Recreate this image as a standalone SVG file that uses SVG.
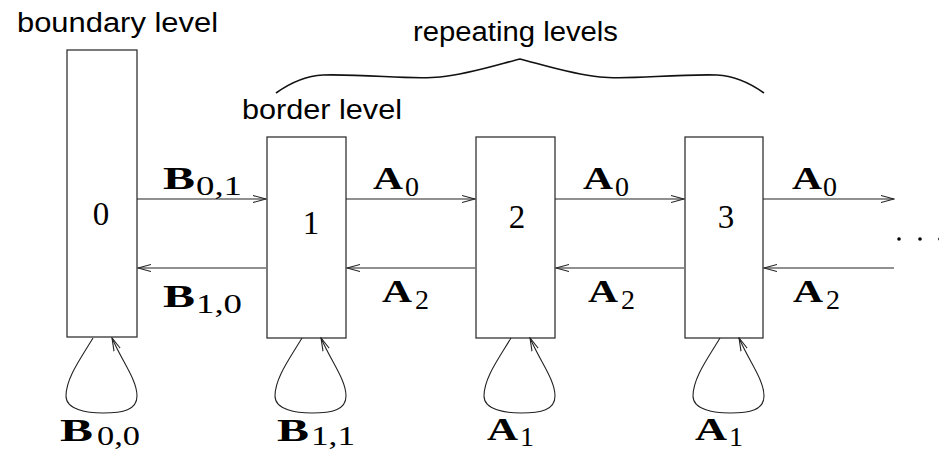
<svg xmlns="http://www.w3.org/2000/svg" width="939" height="452" viewBox="0 0 939 452">
<style>
.box{fill:#fff;stroke:#333;stroke-width:1.3}
.ln{fill:none;stroke:#222;stroke-width:1.1}
.br{fill:none;stroke:#111;stroke-width:1.6}
.lbl{font-family:"Liberation Sans",Arial,sans-serif;font-size:27px;fill:#000}
.num{font-family:"Liberation Serif","Times New Roman",serif;font-size:33px;fill:#000;text-anchor:middle}
.m{font-family:"Liberation Serif","Times New Roman",serif;font-weight:bold;font-size:32px;fill:#000}
.s{font-family:"Liberation Serif","Times New Roman",serif;font-size:28px;fill:#000}
</style>
<defs>
<marker id="ah" markerWidth="14" markerHeight="10" refX="13" refY="5" orient="auto" markerUnits="userSpaceOnUse">
<path d="M0,1.5 L13,5 L0,8.5" fill="none" stroke="#222" stroke-width="1.1"/>
</marker>
<path id="loop" d="M0,0 C-12,20 -27,40 -27,58 C-27,72 -5,75 10,75 C30,75 44,72 44,58 C44,42 30,25 19,0"/>
</defs>

<text class="lbl" x="17" y="32" textLength="201" lengthAdjust="spacingAndGlyphs">boundary level</text>
<text class="lbl" x="413" y="41" textLength="205" lengthAdjust="spacingAndGlyphs">repeating levels</text>
<text class="lbl" x="242" y="119" textLength="160" lengthAdjust="spacingAndGlyphs">border level</text>
<path class="br" d="M276,93 Q300,76 323,75 C370,74 410,80 440,77 C470,74 500,64 520,59 C540,64 570,74 600,77 C630,80 670,74 717,75 Q740,76 764,93"/>

<g id="node0">
<rect class="box" x="67" y="50" width="70" height="287"/>
<text class="num" x="101" y="225">0</text>
</g>
<g id="node1">
<rect class="box" x="267" y="137" width="79" height="201"/>
<text class="num" x="311" y="234">1</text>
</g>
<g id="node2">
<rect class="box" x="476" y="137" width="79" height="201"/>
<text class="num" x="517" y="228">2</text>
</g>
<g id="node3">
<rect class="box" x="685" y="137" width="78" height="201"/>
<text class="num" x="726" y="228">3</text>
</g>

<g id="connectors">
<line class="ln" x1="137" y1="199" x2="266" y2="199" marker-end="url(#ah)"/>
<line class="ln" x1="346" y1="199" x2="475" y2="199" marker-end="url(#ah)"/>
<line class="ln" x1="555" y1="199" x2="684" y2="199" marker-end="url(#ah)"/>
<line class="ln" x1="763" y1="199" x2="894" y2="199" marker-end="url(#ah)"/>
<line class="ln" x1="266" y1="268" x2="138" y2="268" marker-end="url(#ah)"/>
<line class="ln" x1="475" y1="268" x2="347" y2="268" marker-end="url(#ah)"/>
<line class="ln" x1="684" y1="268" x2="556" y2="268" marker-end="url(#ah)"/>
<line class="ln" x1="894" y1="268" x2="764" y2="268" marker-end="url(#ah)"/>
<use href="#loop" class="ln" transform="translate(93,338)" marker-end="url(#ah)"/>
<use href="#loop" class="ln" transform="translate(302,338)" marker-end="url(#ah)"/>
<use href="#loop" class="ln" transform="translate(511,338)" marker-end="url(#ah)"/>
<use href="#loop" class="ln" transform="translate(720,338)" marker-end="url(#ah)"/>
</g>

<g id="dots" fill="#000">
<circle cx="899" cy="239" r="1.8"/>
<circle cx="920" cy="239" r="1.8"/>
<circle cx="940" cy="239" r="1.8"/>
</g>

<g id="labels">
<text class="m" x="163" y="189" textLength="32" lengthAdjust="spacingAndGlyphs">B</text>
<text class="s" x="196" y="195" textLength="46" lengthAdjust="spacingAndGlyphs">0,1</text>
<text class="m" x="163" y="307" textLength="32" lengthAdjust="spacingAndGlyphs">B</text>
<text class="s" x="196" y="313" textLength="46" lengthAdjust="spacingAndGlyphs">1,0</text>

<text class="m" x="373" y="189" textLength="30" lengthAdjust="spacingAndGlyphs">A</text>
<text class="s" x="405" y="196">0</text>
<text class="m" x="382" y="302" textLength="30" lengthAdjust="spacingAndGlyphs">A</text>
<text class="s" x="415" y="309">2</text>

<text class="m" x="583" y="189" textLength="30" lengthAdjust="spacingAndGlyphs">A</text>
<text class="s" x="615" y="196">0</text>
<text class="m" x="588" y="302" textLength="30" lengthAdjust="spacingAndGlyphs">A</text>
<text class="s" x="621" y="309">2</text>

<text class="m" x="792" y="189" textLength="30" lengthAdjust="spacingAndGlyphs">A</text>
<text class="s" x="823" y="196">0</text>
<text class="m" x="793" y="302" textLength="30" lengthAdjust="spacingAndGlyphs">A</text>
<text class="s" x="826" y="309">2</text>

<text class="m" x="60" y="441" textLength="33" lengthAdjust="spacingAndGlyphs">B</text>
<text class="s" x="97" y="445" textLength="43" lengthAdjust="spacingAndGlyphs">0,0</text>
<text class="m" x="277" y="441" textLength="32" lengthAdjust="spacingAndGlyphs">B</text>
<text class="s" x="311" y="445" textLength="44" lengthAdjust="spacingAndGlyphs">1,1</text>

<text class="m" x="487" y="440" textLength="31" lengthAdjust="spacingAndGlyphs">A</text>
<text class="s" x="520" y="446">1</text>
<text class="m" x="695" y="440" textLength="32" lengthAdjust="spacingAndGlyphs">A</text>
<text class="s" x="729" y="446">1</text>
</g>
</svg>
